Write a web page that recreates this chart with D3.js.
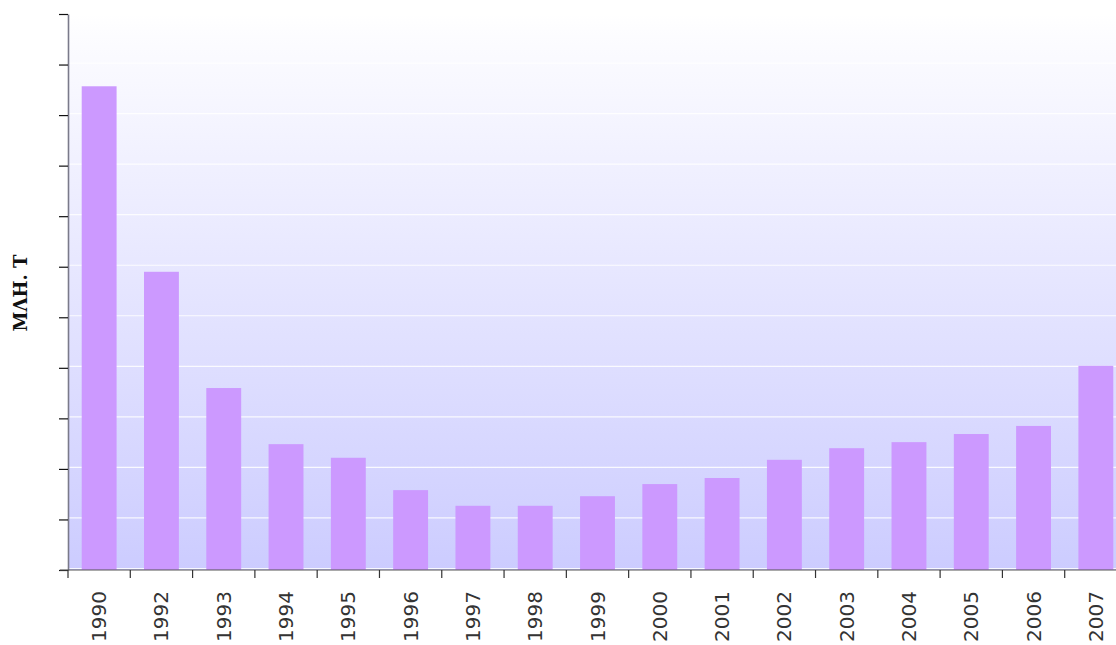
<!DOCTYPE html>
<html>
<head>
<meta charset="utf-8">
<script src="https://cdn.jsdelivr.net/npm/d3@7"></script>
<style>
  html, body { margin: 0; padding: 0; background: #fff; overflow: hidden; }
  svg { display: block; }
</style>
</head>
<body>
<div id="chart"></div>
<script>
  // categories and values (units read off the tick spacing, no labels on the y axis)
  var years = ["1990", "1992", "1993", "1994", "1995", "1996", "1997", "1998", "1999",
    "2000", "2001", "2002", "2003", "2004", "2005", "2006", "2007"];
  var values = [9.57, 5.90, 3.60, 2.49, 2.22, 1.58, 1.27, 1.27, 1.46,
    1.70, 1.82, 2.18, 2.41, 2.53, 2.69, 2.85, 4.04];
  var yTicks = [0, 1, 2, 3, 4, 5, 6, 7, 8, 9, 10, 11];
  var yLabel = "ΜΛΗ. Τ";

  var W = 1116, H = 645;
  var plotLeft = 68, plotRight = 1127, plotTop = 14, plotBottom = 570;

  var svg = d3.select("#chart").append("svg")
    .attr("width", W)
    .attr("height", H);

  // background gradient of the plot area
  var grad = svg.append("defs").append("linearGradient")
    .attr("id", "bg")
    .attr("x1", 0).attr("y1", 0).attr("x2", 0).attr("y2", 1);
  grad.append("stop").attr("offset", "0%").attr("stop-color", "#ffffff");
  grad.append("stop").attr("offset", "4%").attr("stop-color", "#fcfcff");
  grad.append("stop").attr("offset", "100%").attr("stop-color", "#ccccff");

  var x = d3.scaleBand().domain(years).range([plotLeft, plotRight])
    .paddingInner(0.44).paddingOuter(0.22);
  var y = d3.scaleLinear().domain([0, 11]).range([plotBottom, plotTop]);

  svg.append("rect")
    .attr("x", plotLeft).attr("y", plotTop)
    .attr("width", plotRight - plotLeft).attr("height", plotBottom - plotTop)
    .attr("fill", "url(#bg)");

  // white grid lines
  svg.append("g").selectAll("line")
    .data(yTicks)
    .enter().append("line")
    .attr("x1", plotLeft).attr("x2", plotRight)
    .attr("y1", function (d) { return y(d) - 1.5; })
    .attr("y2", function (d) { return y(d) - 1.5; })
    .attr("stroke", "#ffffff")
    .attr("stroke-opacity", 0.85)
    .attr("stroke-width", 1.2);

  // bars
  svg.append("g").selectAll("rect")
    .data(values)
    .enter().append("rect")
    .attr("x", function (d, i) { return x(years[i]); })
    .attr("width", x.bandwidth())
    .attr("y", function (d) { return y(d); })
    .attr("height", function (d) { return y(0) - y(d); })
    .attr("fill", "#cc99ff");

  // y axis
  var yAxis = svg.append("g")
    .attr("transform", "translate(" + plotLeft + ",0)")
    .call(d3.axisLeft(y).tickValues(yTicks).tickFormat("").tickSize(9).tickSizeOuter(0));
  yAxis.select(".domain").attr("stroke", "#7a7a8a").attr("stroke-width", 1.6);
  yAxis.selectAll(".tick line").attr("stroke", "#111").attr("stroke-width", 1.2);

  // x axis line and boundary ticks
  svg.append("line")
    .attr("x1", plotLeft - 8).attr("x2", plotRight)
    .attr("y1", plotBottom).attr("y2", plotBottom)
    .attr("stroke", "#555")
    .attr("stroke-width", 1.2);

  var gap = (x.step() - x.bandwidth()) / 2;
  svg.append("g").selectAll("line")
    .data(years)
    .enter().append("line")
    .attr("x1", function (d) { return x(d) - gap; })
    .attr("x2", function (d) { return x(d) - gap; })
    .attr("y1", plotBottom).attr("y2", plotBottom + 8)
    .attr("stroke", "#333")
    .attr("stroke-width", 1.2);

  // x labels, rotated
  svg.append("g").selectAll("text")
    .data(years)
    .enter().append("text")
    .attr("transform", function (d) {
      return "translate(" + (x(d) + x.bandwidth() / 2 + 7) + "," + (plotBottom + 21) + ") rotate(-90)";
    })
    .attr("text-anchor", "end")
    .attr("font-family", "'DejaVu Sans', sans-serif")
    .attr("font-size", "20px")
    .attr("fill", "#333")
    .text(function (d) { return d; });

  // y label
  svg.append("text")
    .attr("transform", "translate(27,293) rotate(-90)")
    .attr("text-anchor", "middle")
    .attr("font-family", "'DejaVu Serif', serif")
    .attr("font-weight", "bold")
    .attr("font-size", "18px")
    .attr("fill", "#111")
    .text(yLabel);
</script>
</body>
</html>
